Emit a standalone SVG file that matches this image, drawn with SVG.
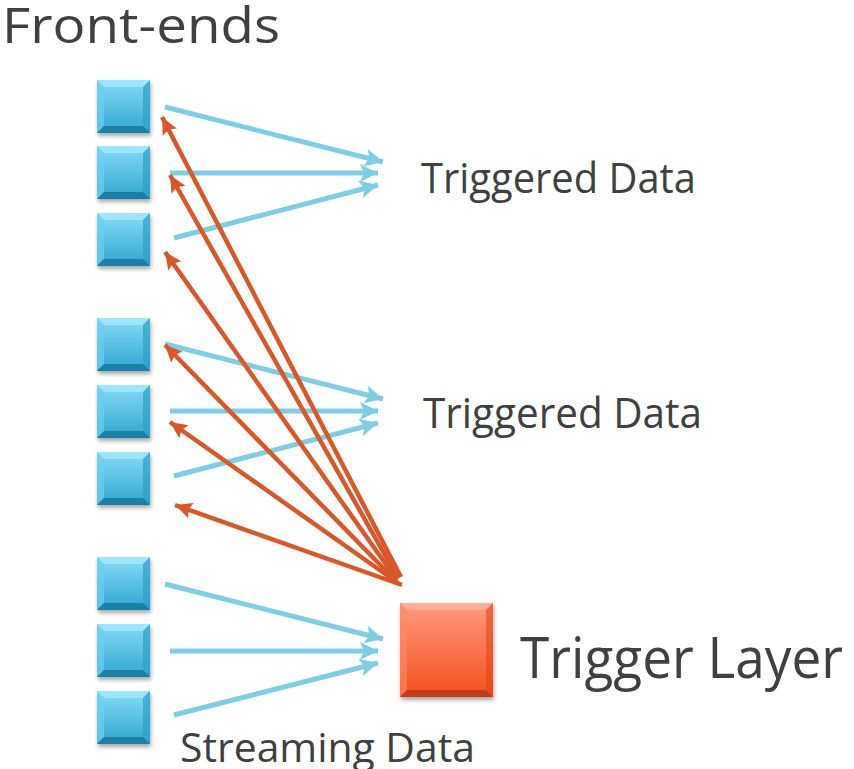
<svg xmlns="http://www.w3.org/2000/svg" xmlns:xlink="http://www.w3.org/1999/xlink" width="854" height="769" viewBox="0 0 854 769">
<style>
text{font-family:"Open Sans","Liberation Sans",sans-serif;fill:#404040}
.b{stroke:#7ECDE2;stroke-width:5;fill:none;marker-end:url(#ab)}
.r{stroke:#D9582B;stroke-width:4.5;fill:none;marker-end:url(#ar)}
</style>
<defs>
<linearGradient id="gb" x1="0" y1="0" x2="0" y2="1">
<stop offset="0" stop-color="#86DBF6"/><stop offset="1" stop-color="#2FA6D1"/>
</linearGradient>
<linearGradient id="gr" x1="0" y1="0" x2="0" y2="1">
<stop offset="0" stop-color="#FF9A80"/><stop offset="1" stop-color="#F34E1C"/>
</linearGradient>
<filter id="sh" x="-20%" y="-20%" width="150%" height="150%">
<feGaussianBlur in="SourceAlpha" stdDeviation="2"/><feOffset dx="1" dy="3"/>
<feComponentTransfer><feFuncA type="linear" slope="0.35"/></feComponentTransfer>
<feMerge><feMergeNode/><feMergeNode in="SourceGraphic"/></feMerge>
</filter>
<g id="bb">
<rect width="53" height="53" fill="url(#gb)"/>
<polygon points="0,0 53,0 46,7 7,7" fill="#A4EAFF" opacity="0.8"/>
<polygon points="0,0 7,7 7,46 0,53" fill="#6FCFEF" opacity="0.7"/>
<polygon points="53,0 53,53 46,46 46,7" fill="#2D9FC8" opacity="0.7"/>
<polygon points="0,53 53,53 46,46 7,46" fill="#1E7FA6"/>
</g>
<marker id="ab" markerUnits="userSpaceOnUse" markerWidth="20" markerHeight="20" refX="18" refY="9" orient="auto" viewBox="0 0 20 18">
<path d="M0,0 L18,9 L0,18 L4,9 Z" fill="#7ECDE2"/>
</marker>
<marker id="ar" markerUnits="userSpaceOnUse" markerWidth="18" markerHeight="18" refX="17" refY="8" orient="auto" viewBox="0 0 18 16">
<path d="M0,0 L17,8 L0,16 L3,8 Z" fill="#D9582B"/>
</marker>
</defs>
<text x="2" y="43" font-size="50" textLength="278" lengthAdjust="spacingAndGlyphs">Front-ends</text>
<g id="fe1" filter="url(#sh)"><use xlink:href="#bb" x="97" y="80"/></g>
<g id="fe2" filter="url(#sh)"><use xlink:href="#bb" x="97" y="146"/></g>
<g id="fe3" filter="url(#sh)"><use xlink:href="#bb" x="97" y="213"/></g>
<g id="fe4" filter="url(#sh)"><use xlink:href="#bb" x="97" y="318"/></g>
<g id="fe5" filter="url(#sh)"><use xlink:href="#bb" x="97" y="385"/></g>
<g id="fe6" filter="url(#sh)"><use xlink:href="#bb" x="97" y="452"/></g>
<g id="fe7" filter="url(#sh)"><use xlink:href="#bb" x="97" y="557"/></g>
<g id="fe8" filter="url(#sh)"><use xlink:href="#bb" x="97" y="624"/></g>
<g id="fe9" filter="url(#sh)"><use xlink:href="#bb" x="97" y="691"/></g>
<g id="trigger" filter="url(#sh)">
<rect x="400" y="603" width="93" height="94" fill="url(#gr)"/>
<polygon points="400,603 493,603 486,610 407,610" fill="#FFB49E" opacity="0.8"/>
<polygon points="400,603 407,610 407,690 400,697" fill="#FF8B6C" opacity="0.6"/>
<polygon points="493,603 493,697 486,690 486,610" fill="#E0461A" opacity="0.6"/>
<polygon points="400,697 493,697 486,690 407,690" fill="#C23D14"/>
</g>
<text x="421" y="193" font-size="42" textLength="275" lengthAdjust="spacingAndGlyphs">Triggered Data</text>
<text x="423" y="428" font-size="42" textLength="279" lengthAdjust="spacingAndGlyphs">Triggered Data</text>
<text x="520" y="678" font-size="56" textLength="323" lengthAdjust="spacingAndGlyphs">Trigger Layer</text>
<text x="180" y="762" font-size="40" textLength="295" lengthAdjust="spacingAndGlyphs">Streaming Data</text>
<g id="connectors">
<line class="b" x1="165" y1="107" x2="383" y2="162"/>
<line class="b" x1="170" y1="173" x2="378" y2="173"/>
<line class="b" x1="174" y1="238" x2="378" y2="185"/>
<line class="b" x1="165" y1="344" x2="383" y2="399"/>
<line class="b" x1="170" y1="411" x2="378" y2="411"/>
<line class="b" x1="174" y1="476" x2="378" y2="423"/>
<line class="b" x1="165" y1="584" x2="383" y2="639"/>
<line class="b" x1="170" y1="651" x2="378" y2="651"/>
<line class="b" x1="174" y1="715" x2="378" y2="663"/>
<line class="r" x1="401" y1="577" x2="162" y2="117"/>
<line class="r" x1="398" y1="578" x2="170" y2="175"/>
<line class="r" x1="397" y1="580" x2="165" y2="252"/>
<line class="r" x1="396" y1="581" x2="165" y2="345"/>
<line class="r" x1="398" y1="583" x2="170" y2="422"/>
<line class="r" x1="402" y1="585" x2="175" y2="505"/>
</g>
</svg>
